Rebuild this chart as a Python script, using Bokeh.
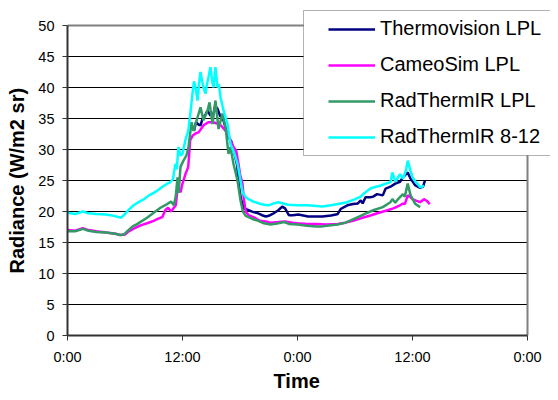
from bokeh.plotting import figure
from bokeh.models import Range1d, FixedTicker, Legend, LegendItem, BoxAnnotation, Title
from bokeh.embed import file_html
from bokeh.resources import INLINE

# ---- data (time in hours from start, radiance in W/m2 sr) ----
x_ticks = [0, 12, 24, 36, 48]
x_tick_labels = ["0:00", "12:00", "0:00", "12:00", "0:00"]
y_ticks = [0, 5, 10, 15, 20, 25, 30, 35, 40, 45, 50]

series_names = ["Thermovision LPL", "CameoSim LPL", "RadThermIR LPL", "RadThermIR 8-12"]
series_colors = ["#000080", "#FF00FF", "#339966", "#00FFFF"]

thermo_t = [13.2, 13.4, 13.7, 13.88, 14.1, 14.4, 14.61, 14.9, 15.24, 15.4, 15.65, 15.9,
            16.28, 16.5, 16.8, 17.1, 17.4, 17.7, 17.9, 18.1, 18.4, 18.9, 19.4, 19.9,
            20.3, 20.7, 21.0, 21.4, 22.0, 22.4, 22.7, 23.1, 23.5, 24.1, 25.1, 26.0,
            26.6, 27.5, 28.0, 28.2, 28.5, 29.2, 29.8, 30.3, 30.6, 30.8, 31.1, 31.6,
            31.9, 32.3, 32.9, 33.2, 33.7, 34.2, 34.7, 35.0, 35.5, 35.8, 36.3, 36.8,
            37.1, 37.3]
thermo_v = [33.0, 34.4, 34.0, 33.9, 35.0, 35.6, 36.3, 35.5, 35.8, 37.0, 36.6, 35.5,
            34.7, 33.5, 32.0, 31.3, 29.5, 27.5, 24.0, 22.0, 20.5, 20.2, 19.9, 19.7,
            19.4, 19.2, 19.3, 19.6, 20.2, 20.8, 20.5, 19.4, 19.4, 19.5, 19.2, 19.2,
            19.2, 19.35, 19.5, 19.6, 20.4, 21.0, 21.2, 21.3, 21.8, 21.3, 22.3, 22.3,
            22.4, 22.8, 22.6, 23.7, 24.0, 24.5, 24.8, 25.5, 26.3, 25.3, 24.2, 23.8,
            24.0, 25.0]

cameo_t = [0.0, 0.8, 1.6, 2.2, 3.0, 4.0, 5.0, 5.5, 6.0, 6.3, 7.0, 7.7, 8.3, 9.0, 9.4,
           9.9, 10.2, 10.5, 10.8, 11.0, 11.3, 11.5, 11.8, 12.0, 12.3, 12.6, 12.8, 13.1,
           13.4, 13.7, 14.2, 14.7, 15.2, 15.6, 16.0, 16.4, 16.7, 17.0, 17.32, 17.6,
           17.84, 18.0, 18.26, 18.4, 18.6, 18.9, 19.4, 20.1, 20.7, 21.2, 22.0, 22.7,
           23.5, 24.0, 25.0, 26.0, 27.0, 28.2, 29.0, 29.8, 30.6, 31.6, 32.5, 33.4,
           34.0, 34.7, 35.0, 35.2, 35.5, 35.8, 36.0, 36.3, 36.8, 37.2, 37.5, 37.8]
cameo_v = [17.0, 16.9, 17.3, 17.0, 16.8, 16.6, 16.4, 16.2, 16.3, 16.7, 17.3, 17.8, 18.1,
           18.5, 18.8, 19.1, 20.2, 20.6, 20.0, 20.4, 21.0, 23.9, 23.1, 24.5, 26.0, 27.2,
           31.5, 32.3, 32.6, 32.8, 33.9, 34.4, 34.4, 34.2, 33.9, 33.2, 32.6, 31.5, 30.4,
           29.8, 27.7, 26.0, 24.5, 22.0, 20.0, 19.4, 19.1, 18.5, 18.4, 18.2, 18.3, 18.4,
           18.2, 18.1, 18.0, 18.0, 17.9, 18.0, 18.2, 18.5, 18.9, 19.35, 19.8, 20.2,
           20.5, 21.0, 21.3, 21.2, 22.6, 22.3, 22.0, 21.8, 21.5, 22.0, 21.7, 21.2]

radlpl_t = [0.0, 0.8, 1.6, 2.2, 3.0, 4.0, 5.0, 5.5, 5.9, 6.3, 6.8, 7.3, 8.3, 9.0, 9.7,
            10.4, 10.8, 11.1, 11.3, 11.48, 11.6, 11.79, 12.1, 12.4, 12.63, 12.94, 13.15,
            13.57, 13.88, 14.19, 14.61, 14.82, 15.13, 15.44, 15.76, 16.17, 16.49, 16.8,
            17.0, 17.32, 17.74, 18.05, 18.3, 18.6, 19.3, 19.9, 20.5, 21.2, 22.0, 22.6,
            23.1, 24.0, 25.0, 26.0, 26.6, 27.5, 28.2, 29.0, 29.9, 30.6, 31.3, 31.9,
            32.9, 33.7, 33.9, 34.2, 34.5, 35.0, 35.2, 35.5, 35.8, 36.3, 36.8]
radlpl_v = [16.8, 16.8, 17.2, 16.9, 16.7, 16.6, 16.4, 16.2, 16.3, 16.9, 17.6, 18.0, 19.0,
            19.8, 20.6, 21.2, 21.6, 21.0, 22.5, 25.5, 23.0, 27.2, 28.2, 29.0, 30.4, 34.4,
            33.0, 35.2, 36.8, 34.7, 36.3, 37.6, 34.1, 37.9, 33.3, 35.8, 33.6, 29.3, 30.4,
            27.7, 25.0, 21.8, 20.0, 19.3, 18.8, 18.5, 18.1, 17.9, 18.1, 18.3, 18.0, 17.9,
            17.7, 17.6, 17.6, 17.8, 17.9, 18.2, 18.8, 19.3, 19.8, 20.2, 20.7, 21.5, 22.0,
            21.4, 22.0, 22.8, 22.4, 24.5, 22.6, 21.2, 20.7]

rad812_t = [0.0, 0.8, 1.6, 2.2, 3.0, 4.0, 4.8, 5.3, 5.6, 6.0, 6.4, 6.9, 7.5, 8.0, 8.5,
            9.0, 9.5, 9.9, 10.3, 10.7, 11.0, 11.27, 11.4, 11.58, 11.8, 12.0, 12.3, 12.6,
            12.8, 13.04, 13.2, 13.36, 13.57, 13.75, 13.88, 14.05, 14.19, 14.4, 14.55,
            14.71, 14.92, 15.1, 15.24, 15.44, 15.65, 15.8, 15.97, 16.28, 16.7, 17.0,
            17.32, 17.74, 18.05, 18.3, 18.6, 19.0, 19.4, 20.0, 20.5, 21.0, 21.5, 22.0,
            22.5, 23.0, 24.0, 25.0, 26.0, 26.6, 27.5, 28.2, 29.2, 30.0, 30.6, 31.0,
            31.6, 32.2, 32.7, 33.2, 33.7, 33.9, 34.2, 34.7, 35.0, 35.3, 35.5, 35.8,
            36.0, 36.3, 36.5, 36.8, 37.0, 37.2]
rad812_v = [19.8, 19.6, 20.0, 19.7, 19.6, 19.5, 19.3, 19.1, 19.0, 19.6, 20.3, 21.0, 21.6,
            22.0, 22.6, 23.0, 23.5, 24.0, 24.4, 24.7, 25.2, 27.7, 26.8, 30.4, 29.0, 29.3,
            31.5, 33.0, 35.5, 39.0, 41.0, 40.0, 37.9, 41.0, 42.5, 41.0, 40.0, 39.0, 40.5,
            41.7, 43.3, 41.0, 40.0, 43.3, 40.0, 40.5, 38.4, 36.3, 34.1, 30.9, 29.8, 27.7,
            25.0, 23.0, 22.3, 21.9, 21.6, 21.3, 21.1, 21.0, 21.3, 21.5, 21.3, 21.1, 21.0,
            21.0, 20.9, 20.8, 21.0, 21.2, 21.5, 22.0, 22.4, 23.0, 23.7, 24.0, 24.2, 24.5,
            24.7, 26.3, 24.8, 26.0, 25.3, 26.5, 28.2, 26.5, 25.5, 24.8, 24.5, 23.9, 24.0,
            24.2]

FONT = "Liberation Sans"

# The frame is extended beyond the 0-48 h / 0-50 plot area so that the legend
# (which overhangs the plot area, as in the reference) is not clipped.
x_lo, x_hi = x_ticks[0], x_ticks[-1]
y_lo, y_hi = y_ticks[0], y_ticks[-1]

p = figure(width=550, height=392, output_backend="svg", toolbar_location=None,
           x_range=Range1d(x_lo, x_hi + 23 / 9.5833),
           y_range=Range1d(y_lo, y_hi + 20 / 6.2),
           min_border_left=67, min_border_right=0, min_border_top=5,
           min_border_bottom=57, background_fill_color="white",
           border_fill_color="white")
p.outline_line_color = None

# grid lines (inside the plot area only)
grid_y = y_ticks[1:-1]
p.segment(x0=[x_lo] * len(grid_y), x1=[x_hi] * len(grid_y), y0=grid_y, y1=grid_y,
          line_color="black", line_width=1)
# plot-area border (top and right, grey)
p.segment(x0=[x_lo, x_hi], x1=[x_hi, x_hi], y0=[y_hi, y_lo], y1=[y_hi, y_hi],
          line_color="#808080", line_width=2)

xs_all = [thermo_t, cameo_t, radlpl_t, rad812_t]
ys_all = [thermo_v, cameo_v, radlpl_v, rad812_v]
renderers = []
for xs, ys, c in zip(xs_all, ys_all, series_colors):
    r = p.line(xs, ys, line_color=c, line_width=2.5)
    renderers.append(r)

# axes
p.xaxis.ticker = FixedTicker(ticks=x_ticks)
p.xaxis.major_label_overrides = {t: l for t, l in zip(x_ticks, x_tick_labels)}
p.xaxis.bounds = (x_lo, x_hi)
p.yaxis.ticker = FixedTicker(ticks=y_ticks)
p.yaxis.bounds = (y_lo, y_hi)
for ax in (p.xaxis[0], p.yaxis[0]):
    ax.axis_line_color = "#333333"
    ax.axis_line_width = 2
    ax.major_tick_line_color = "#333333"
    ax.major_tick_out = 5
    ax.major_tick_in = 0
    ax.minor_tick_line_color = None
    ax.major_label_text_font = FONT
    ax.major_label_text_font_size = "14.5px"
    ax.major_label_text_color = "black"
p.xaxis.major_label_standoff = 8
p.yaxis.major_label_standoff = 8

p.xgrid.grid_line_color = None
p.ygrid.grid_line_color = None

# axis titles, positioned on the 0-48 h / 0-50 plot area
x_title = Title(text="Time", align="left", offset=206, standoff=1,
                vertical_align="bottom", text_font=FONT, text_font_size="20px",
                text_font_style="bold", text_color="black")
p.add_layout(x_title, "below")
y_title = Title(text="Radiance (W/m2 sr)", align="left", offset=62, standoff=11,
                vertical_align="top", text_font=FONT, text_font_size="20px",
                text_font_style="bold", text_color="black")
p.add_layout(y_title, "left")

# legend box border
box = BoxAnnotation(left=236, right=700, bottom=180, top=325,
                    left_units="screen", right_units="screen",
                    bottom_units="screen", top_units="screen",
                    fill_color="white", fill_alpha=1.0,
                    line_color="black", line_width=1)
p.add_layout(box)

legend = Legend(items=[LegendItem(label=n, renderers=[r]) for n, r in zip(series_names, renderers)],
                location=(261, 187), padding=0, margin=0, spacing=13,
                glyph_width=47, glyph_height=20, label_height=20,
                label_standoff=5, label_text_font=FONT, label_text_font_size="20px",
                label_text_color="black", border_line_alpha=0,
                background_fill_alpha=0)
p.add_layout(legend, "center")

open("out.html", "w").write(file_html(p, INLINE))
